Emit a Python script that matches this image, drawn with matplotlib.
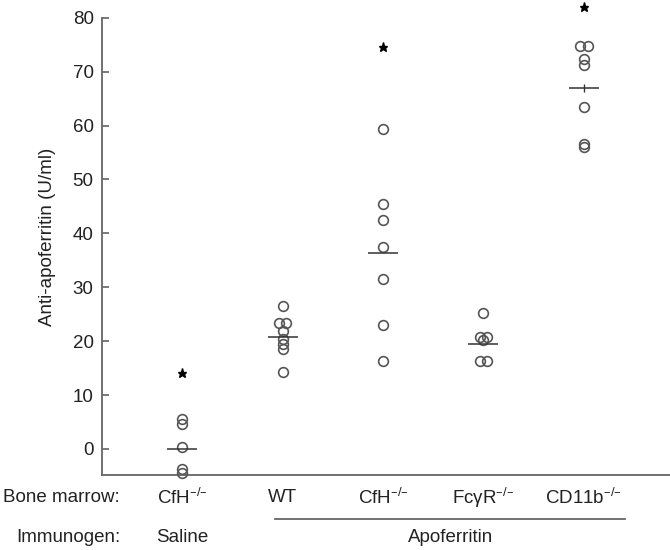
import matplotlib
matplotlib.use("Agg")
import matplotlib.pyplot as plt
import matplotlib.transforms as mtransforms
import numpy as np

plt.rcParams['font.family'] = ['Liberation Sans', 'DejaVu Sans']
plt.rcParams['mathtext.default'] = 'regular'

# ---- data ----
bone_marrow = ["CfH$^{–/–}$", "WT", "CfH$^{–/–}$", "FcγR$^{–/–}$", "CD11b$^{–/–}$"]
immunogen_labels = ["Saline", "Apoferritin"]
saline_cfh = [5.6, 4.6, 0.3, -3.7, -4.4]
apo_wt = [26.6, 23.3, 23.3, 21.8, 20.4, 19.5, 18.5, 14.3]
apo_cfh = [59.3, 45.4, 42.4, 37.4, 31.5, 23.0, 16.3]
apo_fcgr = [25.2, 20.8, 20.8, 20.2, 16.4, 16.4]
apo_cd11b = [74.7, 74.7, 72.3, 71.3, 63.4, 56.6, 56.0]
group_means = [0.0, 20.7, 36.4, 19.5, 67.0]
star_values = [14.0, None, 74.6, None, 82.0]
y_ticks = [0, 10, 20, 30, 40, 50, 60, 70, 80]

groups = [saline_cfh, apo_wt, apo_cfh, apo_fcgr, apo_cd11b]

FS = 13.5
fig = plt.figure(figsize=(6.7, 5.5), dpi=100)
ax = fig.add_axes([102 / 670, 1 - 474.5 / 550, 1 - 102 / 670, 474.5 / 550])

gray = '#555555'
for i, vals in enumerate(groups):
    xc = i + 1
    vals = np.array(vals)
    xs = np.full(len(vals), float(xc))
    # dodge tied values side by side
    uniq, counts = np.unique(vals, return_counts=True)
    for u, c in zip(uniq, counts):
        if c > 1:
            idx = np.where(vals == u)[0]
            offs = np.linspace(-0.038 * (c - 1), 0.038 * (c - 1), c)
            xs[idx] = xc + offs
    ax.plot(xs, vals, linestyle='none', marker='o', markersize=7,
            markerfacecolor='none', markeredgecolor=gray, markeredgewidth=1.2,
            clip_on=False, zorder=3)
    ax.hlines(group_means[i], xc - 0.15, xc + 0.15, color='#333333', linewidth=1.1, zorder=4)
    if star_values[i] is not None:
        ax.plot([xc], [star_values[i]], marker='*', markersize=6.5, color='black',
                linestyle='none', clip_on=False, zorder=4)

# CD11b mean cross mark
ax.plot([5], [group_means[4]], marker='|', markersize=6, color='#333333', markeredgewidth=1.0, zorder=4)

ax.set_xlim(0.2, 5.86)
ax.set_ylim(-4.75, 83.3)
ax.set_yticks(y_ticks)
ax.set_xticks([])
ax.spines['top'].set_visible(False)
ax.spines['right'].set_visible(False)
ax.spines['left'].set_bounds(-4.75, 80)
for s in ['left', 'bottom']:
    ax.spines[s].set_color('#666666')
    ax.spines[s].set_linewidth(1.3)
ax.tick_params(axis='y', direction='in', length=5, width=1.1, color='#555555',
               pad=6, labelsize=FS, labelcolor='#222222')
ax.set_ylabel('Anti-apoferritin (U/ml)', fontsize=FS, color='#222222', labelpad=12)

# bottom labels
trans = mtransforms.blended_transform_factory(ax.transData, fig.transFigure)
y_bm = 1 - 498 / 550
y_im = 1 - 538 / 550
x_lab = 120 / 670
fig.text(x_lab, y_bm, 'Bone marrow:', ha='right', va='center', fontsize=FS, color='#222222')
fig.text(x_lab, y_im, 'Immunogen:', ha='right', va='center', fontsize=FS, color='#222222')
for i, lab in enumerate(bone_marrow):
    ax.text(i + 1, y_bm, lab, transform=trans, ha='center', va='center',
            fontsize=FS, color='#222222')
ax.text(1, y_im, immunogen_labels[0], transform=trans, ha='center', va='center',
        fontsize=FS, color='#222222')
ax.text(3.67, y_im, immunogen_labels[1], transform=trans, ha='center', va='center',
        fontsize=FS, color='#222222')
ax.plot([1.925, 5.41], [1 - 519.3 / 550] * 2, transform=trans, color='#666666',
        linewidth=1.3, clip_on=False)

fig.savefig('out.png', dpi=100)
